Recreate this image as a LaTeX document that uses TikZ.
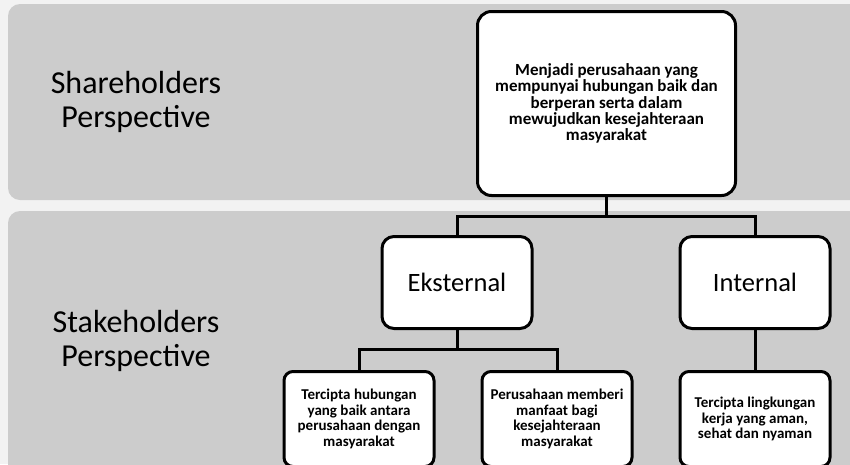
\documentclass[tikz,border=0pt]{standalone}
\usepackage{fontspec}
\setmainfont{Carlito}
\begin{document}
\begin{tikzpicture}[x=1pt, y=-1pt,
    panel/.style={fill=black!20, rounded corners=12pt},
    goalbox/.style={draw, line width=3pt, fill=white, rounded corners=14pt, align=center,
      minimum width=258pt, minimum height=184pt, font=\bfseries\fontsize{17}{16.4}\selectfont},
    sidebox/.style={draw, line width=3pt, fill=white, rounded corners=12pt,
      minimum width=150pt, minimum height=92pt, font=\fontsize{26.5}{30}\selectfont},
    leafbox/.style={draw, line width=3pt, fill=white, rounded corners=9pt, align=center,
      minimum width=150pt, minimum height=95pt, font=\bfseries\fontsize{15}{15.4}\selectfont},
    persp/.style={align=center, font=\fontsize{32}{34}\selectfont},
    link/.style={line width=3pt}]
    \useasboundingbox (0,0) rectangle (850,464);
    \clip (0,0) rectangle (850,464);
    \fill[black!5] (0,0) rectangle (850,464);
    \fill[panel] (8,4) rectangle (880,200);
    \fill[panel] (8,211) rectangle (880,490);
    \node[persp] (share) at (136,102) {Shareholders\\Perspective};
    \node[persp] (stake) at (136,341) {Stakeholders\\Perspective};
    \node[goalbox] (goal) at (606.5,103.5) {Menjadi perusahaan yang\\mempunyai hubungan baik dan\\berperan serta dalam\\mewujudkan kesejahteraan\\masyarakat};
    \node[sidebox] (ext) at (457,282.5) {Eksternal};
    \node[sidebox] (int) at (755,282.5) {Internal};
    \node[leafbox] (leafa) at (359,419) {Tercipta hubungan\\yang baik antara\\perusahaan dengan\\masyarakat};
    \node[leafbox] (leafb) at (557,419) {Perusahaan memberi\\manfaat bagi\\kesejahteraan\\masyarakat};
    \node[leafbox] (leafc) at (755,419) {Tercipta lingkungan\\kerja yang aman,\\sehat dan nyaman};
    \coordinate (bartop) at (606.5,216);
    \coordinate (barext) at (457,349);
    \draw[link] (goal.south) -- (bartop);
    \draw[link] (ext.north) -- (ext.north |- bartop) -- (int.north |- bartop) -- (int.north);
    \draw[link] (ext.south) -- (barext);
    \draw[link] (leafa.north) -- (leafa.north |- barext) -- (leafb.north |- barext) -- (leafb.north);
    \draw[link] (int.south) -- (leafc.north);
\end{tikzpicture}
\end{document}
